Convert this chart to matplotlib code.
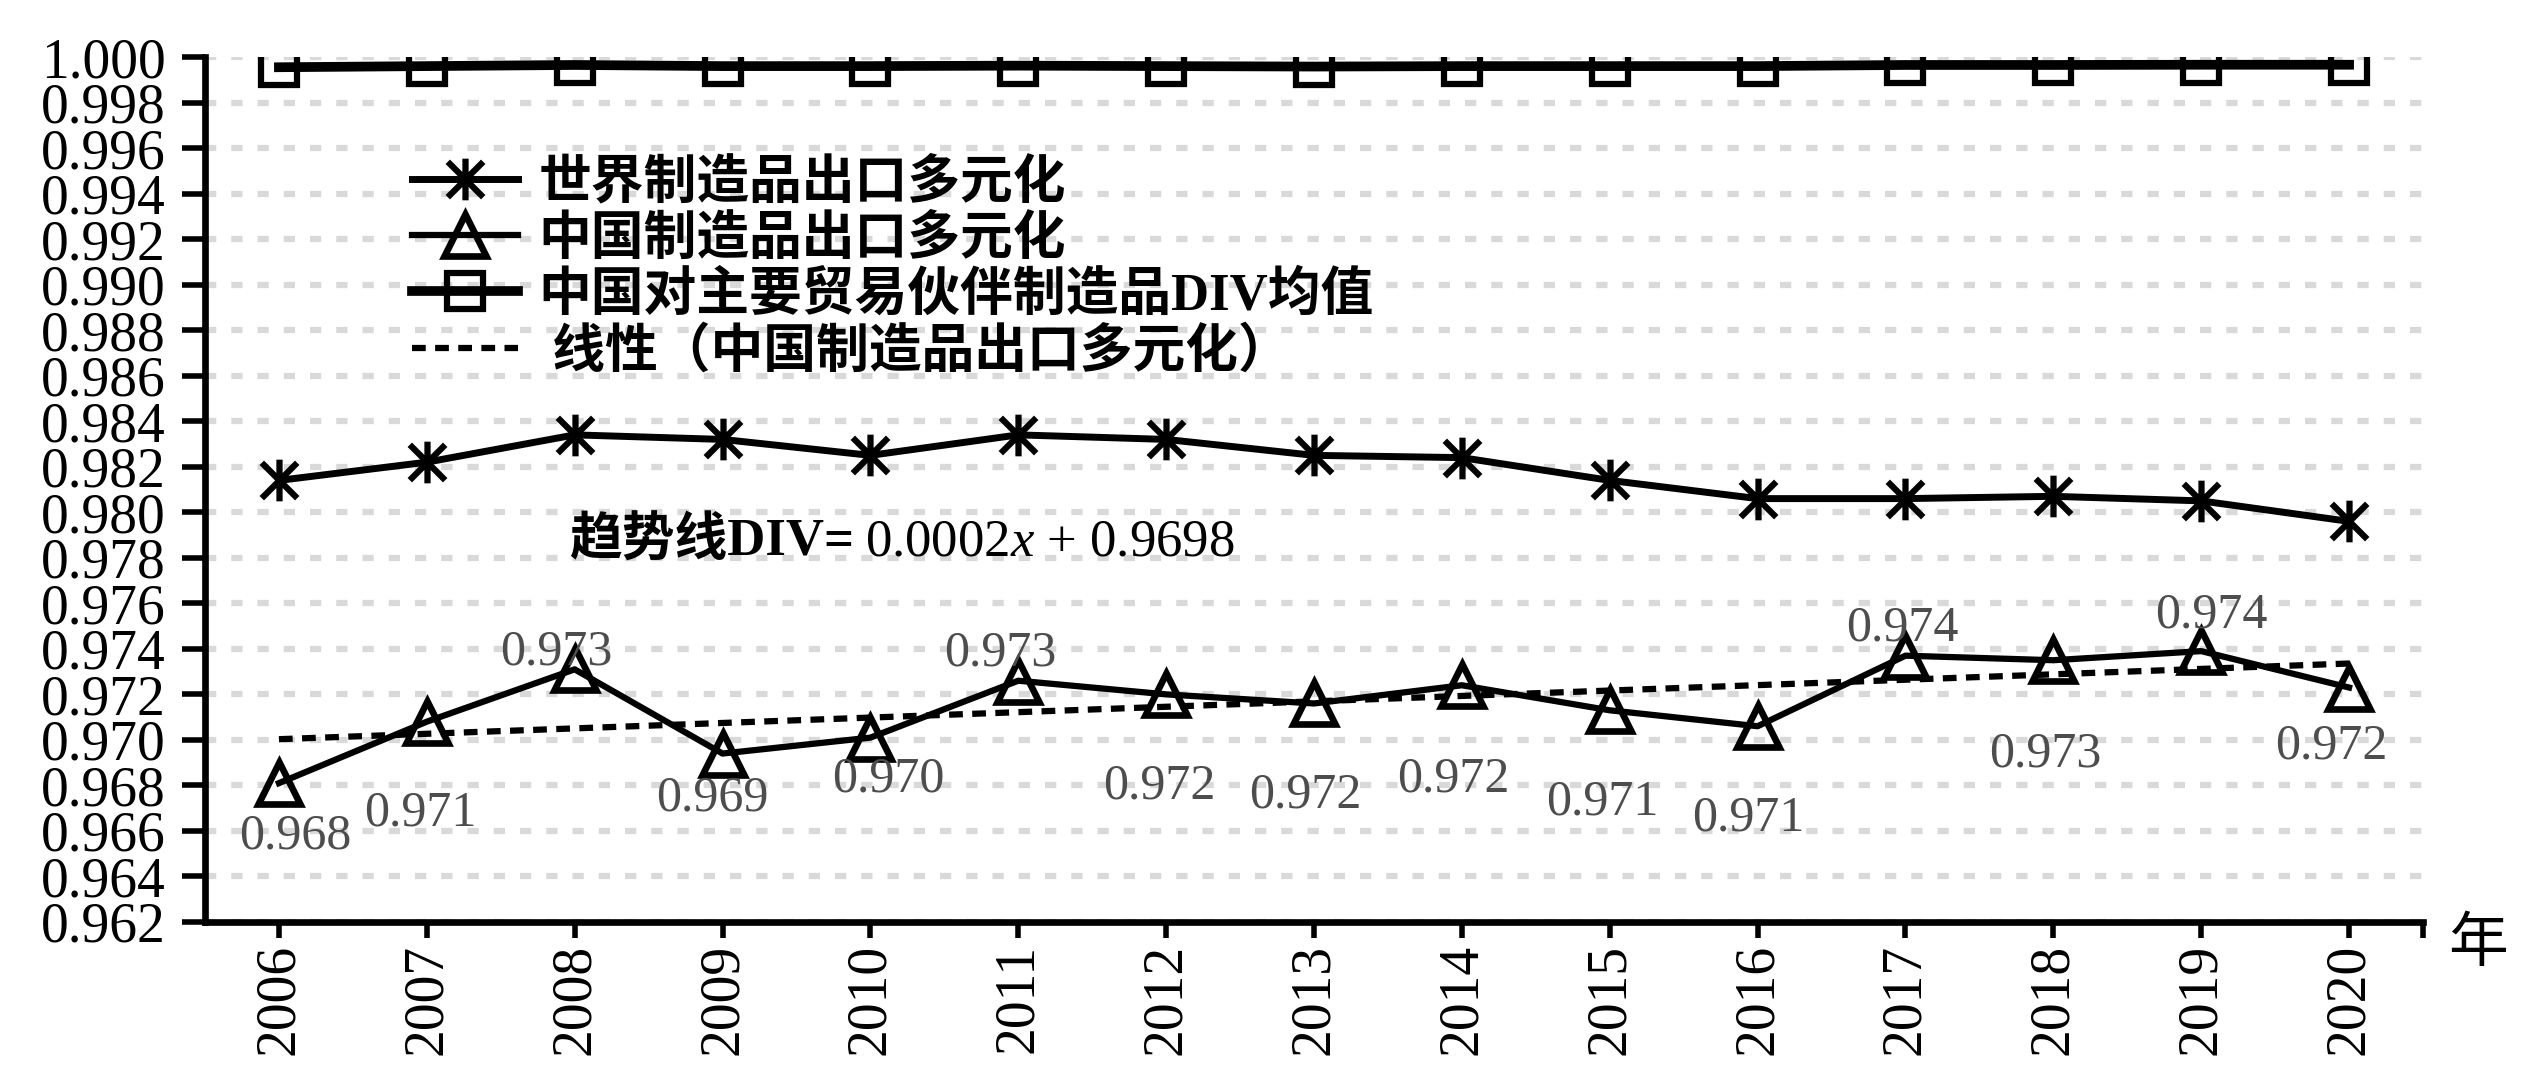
import matplotlib
matplotlib.use('Agg')
import matplotlib.pyplot as plt
from matplotlib.path import Path
import numpy as np

W_PX = 2534
H_PX = 1080
DPI = 100

YEARS = ['2006', '2007', '2008', '2009', '2010', '2011', '2012', '2013',
         '2014', '2015', '2016', '2017', '2018', '2019', '2020']
WORLD_DIV = [0.9814, 0.9822, 0.9834, 0.9832, 0.9825, 0.9834, 0.9832, 0.9825,
             0.9824, 0.9814, 0.9806, 0.9806, 0.9807, 0.9805, 0.9796]
CHINA_DIV = [0.9681, 0.9708, 0.9731, 0.9694, 0.9701, 0.9726, 0.9720, 0.9716,
             0.9724, 0.9713, 0.9706, 0.9737, 0.9735, 0.9739, 0.9723]
CHINA_LABELS = ['0.968', '0.971', '0.973', '0.969', '0.970', '0.973', '0.972', '0.972',
                '0.972', '0.971', '0.971', '0.974', '0.973', '0.974', '0.972']
PARTNER_DIV = [0.99955, 0.9996, 0.99965, 0.9996, 0.9996, 0.99962, 0.9996, 0.99958,
               0.9996, 0.9996, 0.9996, 0.99965, 0.99965, 0.99966, 0.99966]
Y_TICKS = [0.962, 0.964, 0.966, 0.968, 0.970, 0.972, 0.974, 0.976, 0.978, 0.980,
           0.982, 0.984, 0.986, 0.988, 0.990, 0.992, 0.994, 0.996, 0.998, 1.000]
LEGEND_LABELS = ['世界制造品出口多元化', '中国制造品出口多元化',
                 '中国对主要贸易伙伴制造品DIV均值', ' 线性（中国制造品出口多元化）']
TREND_TITLE = '趋势线DIV='
TREND_EQ = '0.0002$x$ + 0.9698'

# label offsets in points (layout only)
LABEL_OFFSETS = [(12, -38), (-5, -66), (-13, 12), (-7, -32), (13, -30), (-13, 20),
                 (-5, -66), (-6, -66), (-6, -68), (-5, -66), (-7, -66), (-2, 20),
                 (-6, -68), (7, 26), (-13, -42)]

GRID_COL = '#d9d9d9'
LABEL_COL = '#4d4d4d'

plt.rcParams['font.family'] = ['Liberation Serif', 'Noto Sans CJK SC']
plt.rcParams['mathtext.fontset'] = 'custom'
plt.rcParams['mathtext.rm'] = 'Liberation Serif'
plt.rcParams['mathtext.it'] = 'Liberation Serif:italic'

# excel style star: vertical bar plus an X
STAR = Path([(0, -1), (0, 1), (-0.85, -0.85), (0.85, 0.85), (-0.85, 0.85), (0.85, -0.85)],
            [Path.MOVETO, Path.LINETO] * 3)

fig = plt.figure(figsize=(W_PX / DPI, H_PX / DPI), dpi=DPI)
ax = fig.add_axes([205 / W_PX, 1 - 922 / H_PX, (2423 - 205) / W_PX, (922 - 57) / H_PX])

xs = np.arange(len(YEARS))

world, = ax.plot(xs, WORLD_DIV, color='black', lw=5, marker=STAR, markersize=30,
                 mfc='none', mec='black', mew=4.5, zorder=4)
china, = ax.plot(xs, CHINA_DIV, color='black', lw=4.5, marker='^', markersize=30,
                 mfc='none', mec='black', mew=4.8, zorder=4)
partner, = ax.plot(xs, PARTNER_DIV, color='black', lw=7, marker='s', markersize=26,
                   mfc='none', mec='black', mew=4.5, zorder=4)

coef = np.polyfit(xs, CHINA_DIV, 1)
trend, = ax.plot(xs, np.polyval(coef, xs), color='black', lw=4.5, dashes=(2.2, 1.5),
                 zorder=3)

for i, (v, lab) in enumerate(zip(CHINA_DIV, CHINA_LABELS)):
    ax.annotate(lab, (i, v), xytext=LABEL_OFFSETS[i], textcoords='offset points',
                ha='center', va='center', fontsize=36, color=LABEL_COL, zorder=5)

ax.set_xlim(-0.5, 14.5)
ax.set_ylim(0.962, 1.000)
ax.set_yticks(Y_TICKS)
ax.set_yticklabels([f'{t:.3f}' for t in Y_TICKS])
ax.set_xticks(xs)
ax.set_xticklabels(YEARS, rotation=90)
ax.set_xticks([14.5], minor=True)

ax.tick_params(axis='y', direction='out', length=16.5, width=4, pad=12, labelsize=40)
ax.tick_params(axis='x', which='both', direction='out', length=11.5, width=4, pad=4,
               labelsize=40)

for s in ['top', 'right']:
    ax.spines[s].set_visible(False)
for s in ['left', 'bottom']:
    ax.spines[s].set_linewidth(4.8)

ax.yaxis.grid(True, color=GRID_COL, lw=4.5, dashes=(1.8, 2.4), zorder=0)
ax.set_axisbelow(True)

leg = ax.legend([world, china, partner, trend], LEGEND_LABELS,
                loc='upper left', bbox_to_anchor=(412 / W_PX, 1 - 158 / H_PX),
                bbox_transform=fig.transFigure, frameon=False,
                prop={'size': 38, 'weight': 'bold'}, numpoints=1,
                handlelength=2.0, handletextpad=0.4, labelspacing=0.11,
                borderpad=0, borderaxespad=0)

t1 = ax.text(1.96, 0.97873, TREND_TITLE, fontsize=38, fontweight='bold',
             ha='left', va='center')
ax.annotate(TREND_EQ, xy=(1, 0), xycoords=t1, xytext=(8, 0),
            textcoords='offset points', ha='left', va='bottom', fontsize=38)

fig.text(2478 / W_PX, 1 - 945 / H_PX, '年', fontsize=43,
         family=['Noto Sans CJK SC', 'DejaVu Sans'], ha='center', va='center')

fig.savefig('out.png', dpi=DPI)
